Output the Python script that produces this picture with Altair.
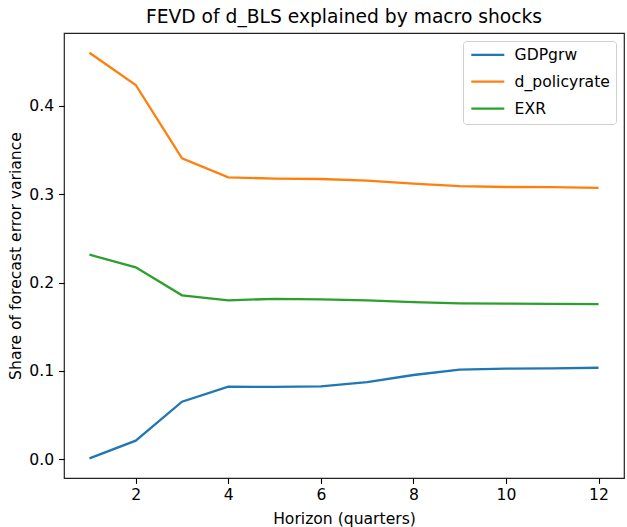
import altair as alt
import pandas as pd

# Forecast-error variance decomposition of d_BLS, horizons 1..12 (quarters)
horizons = [1, 2, 3, 4, 5, 6, 7, 8, 9, 10, 11, 12]
gdpgrw = [0.0008, 0.0208, 0.0650, 0.0820, 0.0817, 0.0824, 0.0872, 0.0952, 0.1014, 0.1025, 0.1026, 0.1034]
d_policyrate = [0.4604, 0.4238, 0.3407, 0.3192, 0.3178, 0.3173, 0.3155, 0.3120, 0.3093, 0.3082, 0.3080, 0.3072]
exr = [0.2315, 0.2172, 0.1855, 0.1798, 0.1815, 0.1810, 0.1798, 0.1777, 0.1764, 0.1760, 0.1759, 0.1755]

series_names = ["GDPgrw", "d_policyrate", "EXR"]
series_colors = ["#1f77b4", "#ff7f0e", "#2ca02c"]
x_ticks = [2, 4, 6, 8, 10, 12]
y_ticks = [0.0, 0.1, 0.2, 0.3, 0.4]

rows = []
for name, values in zip(series_names, [gdpgrw, d_policyrate, exr]):
    for h, v in zip(horizons, values):
        rows.append({"horizon": h, "share": v, "shock": name})
df = pd.DataFrame(rows)

FONT = "DejaVu Sans"
LABEL_SIZE = 15.6

chart = (
    alt.Chart(df)
    .mark_line(strokeWidth=2.3)
    .encode(
        x=alt.X(
            "horizon:Q",
            title="Horizon (quarters)",
            scale=alt.Scale(domain=[0.45, 12.55], nice=False, zero=False),
            axis=alt.Axis(values=x_ticks, format="d", labelPadding=4, titlePadding=8),
        ),
        y=alt.Y(
            "share:Q",
            title="Share of forecast error variance",
            scale=alt.Scale(domain=[-0.0215, 0.4827], nice=False, zero=False),
            axis=alt.Axis(values=y_ticks, format=".1f", labelPadding=5, titlePadding=5),
        ),
        color=alt.Color(
            "shock:N",
            title=None,
            scale=alt.Scale(domain=series_names, range=series_colors),
            legend=alt.Legend(
                orient="none",
                legendX=399,
                legendY=8,
                symbolType="M-3,0H3",
                symbolSize=121,
                symbolStrokeWidth=2.3,
                symbolOffset=11,
                labelOffset=19,
                rowPadding=9.9,
                padding=6,
                strokeColor="#d0d0d0",
                fillColor="#ffffff",
                cornerRadius=3,
                labelFontSize=LABEL_SIZE,
                labelFont=FONT,
                labelColor="#000000",
            ),
        ),
    )
    .properties(
        width=560,
        height=445,
        title=alt.TitleParams(
            "FEVD of d_BLS explained by macro shocks",
            font=FONT,
            fontSize=18.7,
            fontWeight="normal",
            color="#000000",
            anchor="middle",
            frame="group",
            baseline="alphabetic",
            offset=9.3,
            dy=18,
        ),
        autosize=alt.AutoSizeParams(type="none"),
        padding={"left": 64, "top": 33, "right": 3, "bottom": 49},
    )
    .configure_view(stroke="#222222", strokeWidth=1.2)
    .configure_axis(
        grid=False,
        domain=False,
        tickColor="#000000",
        tickSize=5.4,
        tickWidth=1.1,
        labelFont=FONT,
        labelFontSize=LABEL_SIZE,
        labelColor="#000000",
        titleFont=FONT,
        titleFontSize=LABEL_SIZE,
        titleFontWeight="normal",
        titleColor="#000000",
    )
)

chart.save("out.html", embed_options={"renderer": "svg", "actions": False})
